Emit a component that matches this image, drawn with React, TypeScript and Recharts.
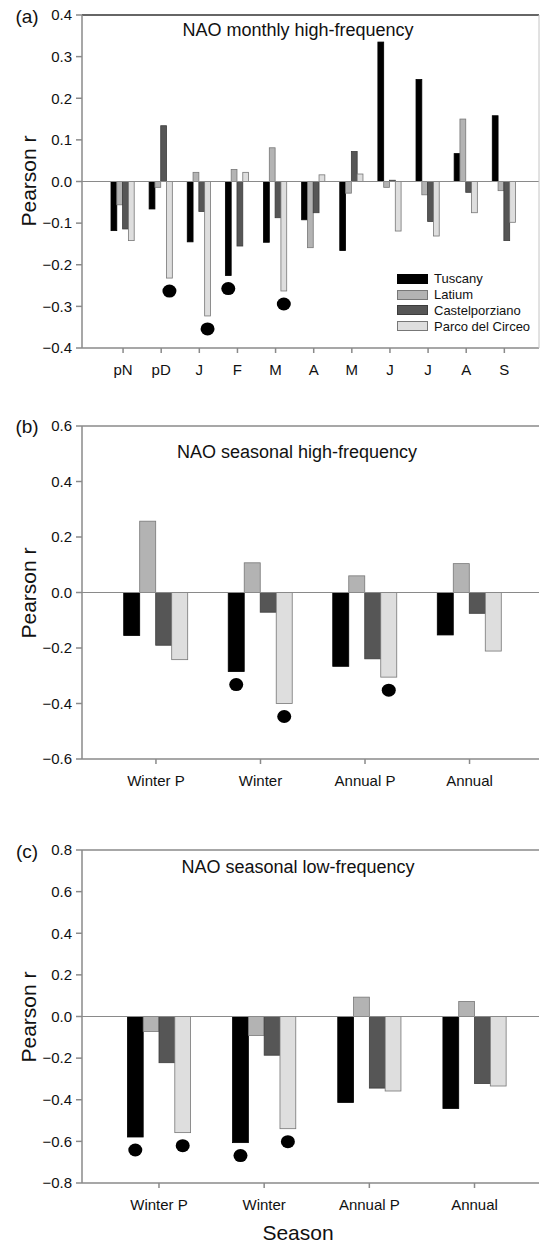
import React from "react";
import { BarChart, Bar, XAxis, YAxis, ReferenceLine } from "recharts";

// (a) monthly high-frequency
const months = ["pN", "pD", "J", "F", "M", "A", "M", "J", "J", "A", "S"];
const tuscanyMonthly = [-0.118, -0.066, -0.145, -0.226, -0.146, -0.092, -0.166, 0.335, 0.245, 0.067, 0.158];
const latiumMonthly = [-0.056, -0.014, 0.022, 0.029, 0.081, -0.159, -0.028, -0.014, -0.032, 0.15, -0.022];
const castelMonthly = [-0.114, 0.134, -0.072, -0.155, -0.087, -0.075, 0.072, 0.003, -0.096, -0.026, -0.142];
const parcoMonthly = [-0.142, -0.232, -0.323, 0.022, -0.263, 0.016, 0.018, -0.119, -0.131, -0.075, -0.098];
const sigMonthlyTuscany = [3];
const sigMonthlyParco = [1, 2, 4];
const monthlyTicks = [-0.4, -0.3, -0.2, -0.1, 0, 0.1, 0.2, 0.3, 0.4];

// (b) seasonal high-frequency
const seasons = ["Winter P", "Winter", "Annual P", "Annual"];
const tuscanyHigh = [-0.155, -0.285, -0.266, -0.153];
const latiumHigh = [0.257, 0.107, 0.06, 0.104];
const castelHigh = [-0.19, -0.071, -0.239, -0.075];
const parcoHigh = [-0.242, -0.4, -0.305, -0.211];
const sigHighTuscany = [1];
const sigHighParco = [1, 2];
const highTicks = [-0.6, -0.4, -0.2, 0, 0.2, 0.4, 0.6];

// (c) seasonal low-frequency
const tuscanyLow = [-0.579, -0.606, -0.413, -0.442];
const latiumLow = [-0.072, -0.091, 0.093, 0.072];
const castelLow = [-0.222, -0.186, -0.344, -0.322];
const parcoLow = [-0.558, -0.539, -0.358, -0.334];
const sigLowTuscany = [0, 1];
const sigLowParco = [0, 1];
const lowTicks = [-0.8, -0.6, -0.4, -0.2, 0, 0.2, 0.4, 0.6, 0.8];

const series = [
  { key: "tuscany", name: "Tuscany", fill: "#000000", stroke: "#000000" },
  { key: "latium", name: "Latium", fill: "#b3b3b3", stroke: "#777777" },
  { key: "castel", name: "Castelporziano", fill: "#565656", stroke: "#3c3c3c" },
  { key: "parco", name: "Parco del Circeo", fill: "#dedede", stroke: "#777777" },
];

const FONT = "'Liberation Sans', Arial, sans-serif";

function buildRows(cats: string[], t: number[], l: number[], c: number[], p: number[], sigT: number[], sigP: number[]) {
  return cats.map((cat, i) => ({
    cat,
    tuscany: t[i],
    latium: l[i],
    castel: c[i],
    parco: p[i],
    tuscanySig: sigT.includes(i),
    parcoSig: sigP.includes(i),
  }));
}

const monthlyData = buildRows(months, tuscanyMonthly, latiumMonthly, castelMonthly, parcoMonthly, sigMonthlyTuscany, sigMonthlyParco);
const highData = buildRows(seasons, tuscanyHigh, latiumHigh, castelHigh, parcoHigh, sigHighTuscany, sigHighParco);
const lowData = buildRows(seasons, tuscanyLow, latiumLow, castelLow, parcoLow, sigLowTuscany, sigLowParco);

// bar with a significance dot under its end
function makeShape(sigKey: string) {
  return (props: any) => {
    const { x, y, width, height, fill, stroke, strokeWidth, payload } = props;
    const top = Math.min(y, y + height);
    const h = Math.abs(height);
    return (
      <g>
        <rect x={x} y={top} width={width} height={h} fill={fill} stroke={stroke} strokeWidth={strokeWidth} />
        {payload && payload[sigKey] ? <ellipse cx={x + width / 2} cy={top + h + 13} rx={7} ry={6.5} fill="#000" /> : null}
      </g>
    );
  };
}

const fmt = (v: number) => v.toFixed(1).replace("-", "\u2212");

function Panel({ top, height, margin, data, ticks, barSize, padding, topStroke, rightBorder }: any) {
  const min = ticks[0];
  const max = ticks[ticks.length - 1];
  return (
    <div style={{ position: "absolute", left: 0, top }}>
      <BarChart width={541} height={height} data={data} margin={margin} barGap={0} barSize={barSize}>
        <XAxis
          dataKey="cat"
          interval={0}
          padding={padding}
          height={30}
          tickSize={5}
          tickMargin={11}
          stroke="#8a8a8a"
          strokeWidth={1.5}
          tick={{ fill: "#111", fontSize: 15 }}
        />
        <YAxis
          yAxisId="l"
          domain={[min, max]}
          ticks={ticks}
          width={82}
          tickSize={6}
          tickMargin={4}
          stroke="#8a8a8a"
          strokeWidth={1.5}
          tick={{ fill: "#111", fontSize: 15 }}
          tickFormatter={fmt}
        />
        <YAxis
          yAxisId="r"
          orientation="right"
          domain={[min, max]}
          width={2}
          tick={false}
          tickLine={false}
          axisLine={rightBorder ? { stroke: "#c4c4c4" } : false}
        />
        <ReferenceLine yAxisId="l" y={0} stroke="#8a8a8a" strokeWidth={1.2} />
        <ReferenceLine yAxisId="l" y={max} stroke={topStroke} strokeWidth={1.5} />
        {series.map((s) => (
          <Bar
            key={s.key}
            yAxisId="l"
            dataKey={s.key}
            name={s.name}
            fill={s.fill}
            stroke={s.stroke}
            strokeWidth={0.8}
            isAnimationActive={false}
            shape={makeShape(s.key + "Sig")}
          />
        ))}
      </BarChart>
    </div>
  );
}

function Txt({ x, y, size, children, rotate }: any) {
  return (
    <div
      style={{
        position: "absolute",
        left: x,
        top: y,
        transform: `translate(-50%, -50%)${rotate ? " rotate(-90deg)" : ""}`,
        fontSize: size,
        lineHeight: 1,
        whiteSpace: "nowrap",
        color: "#111",
      }}
    >
      {children}
    </div>
  );
}

export default function App() {
  return (
    <div style={{ position: "absolute", left: 0, top: 0, width: 541, height: 1247, fontFamily: FONT, background: "#fff" }}>
      <Panel
        top={0}
        height={400}
        margin={{ top: 15, right: 0, bottom: 22, left: 0 }}
        data={monthlyData}
        ticks={monthlyTicks}
        barSize={5.8}
        padding={{ left: 22, right: 15.6 }}
        topStroke="#333"
        rightBorder
      />
      <Panel
        top={400}
        height={400}
        margin={{ top: 26, right: 0, bottom: 11, left: 0 }}
        data={highData}
        ticks={highTicks}
        barSize={16}
        padding={{ left: 21.7, right: 17.2 }}
        topStroke="#8a8a8a"
      />
      <Panel
        top={800}
        height={447}
        margin={{ top: 50, right: 0, bottom: 34, left: 0 }}
        data={lowData}
        ticks={lowTicks}
        barSize={15.8}
        padding={{ left: 24.4, right: 11.9 }}
        topStroke="#8a8a8a"
      />

      <Txt x={27} y={16} size={19}>(a)</Txt>
      <Txt x={27} y={426} size={19}>(b)</Txt>
      <Txt x={27} y={851} size={19}>(c)</Txt>

      <Txt x={298} y={30} size={18}>NAO monthly high-frequency</Txt>
      <Txt x={297} y={452} size={18}>NAO seasonal high-frequency</Txt>
      <Txt x={298} y={867} size={18}>NAO seasonal low-frequency</Txt>

      <Txt x={28} y={181} size={21} rotate>Pearson r</Txt>
      <Txt x={28} y={593} size={21} rotate>Pearson r</Txt>
      <Txt x={28} y={1017} size={21} rotate>Pearson r</Txt>

      <Txt x={298} y={1232} size={21}>Season</Txt>

      <div style={{ position: "absolute", left: 397, top: 271 }}>
        {series.map((s) => (
          <div key={s.key} style={{ display: "flex", alignItems: "center", height: 15.8 }}>
            <span
              style={{
                display: "inline-block",
                width: 29,
                height: 8,
                background: s.fill,
                border: `1px solid ${s.stroke}`,
                marginRight: 6,
              }}
            />
            <span style={{ fontSize: 13, color: "#111", lineHeight: 1 }}>{s.name}</span>
          </div>
        ))}
      </div>
    </div>
  );
}
